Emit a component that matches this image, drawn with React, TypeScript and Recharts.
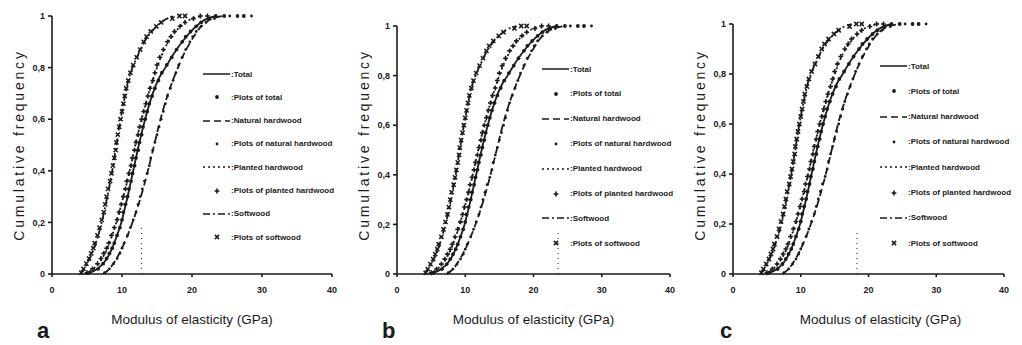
import React from 'react';
import { ComposedChart, Line, Scatter, XAxis, YAxis, ReferenceLine } from 'recharts';

// axis ticks
const xTicks = [0, 10, 20, 30, 40];
const yTicks = [0, 0.2, 0.4, 0.6, 0.8, 1];

// fitted cumulative curves: MOE (GPa) read at these frequencies
const fitLevels = [0, 0.02, 0.05, 0.1, 0.15, 0.2, 0.3, 0.4, 0.5, 0.6, 0.7, 0.76, 0.8, 0.85, 0.9, 0.95, 0.98, 1];
const totalFit = [5.0, 6.5, 7.6, 8.6, 9.3, 9.9, 10.8, 11.6, 12.4, 13.3, 14.4, 15.3, 16.2, 17.3, 18.6, 20.2, 21.5, 23.5];
const naturalFit = [7.3, 8.2, 9.0, 10.0, 10.8, 11.5, 12.7, 13.7, 14.6, 15.5, 16.6, 17.4, 18.0, 18.8, 19.8, 21.0, 22.2, 24.5];
const plantedFit = [4.8, 5.9, 6.9, 7.9, 8.6, 9.2, 10.2, 11.1, 11.9, 12.8, 13.8, 14.5, 15.0, 15.7, 16.6, 18.0, 19.3, 21.5];
const softwoodFit = [4.0, 4.6, 5.2, 6.0, 6.6, 7.1, 7.9, 8.6, 9.2, 9.8, 10.5, 11.0, 11.5, 12.3, 13.2, 14.6, 15.8, 17.5];

// observed plots (cumulative frequency levels and MOE values)
const plotLevels = [0.005, 0.02, 0.04, 0.06, 0.08, 0.1, 0.12, 0.15, 0.18, 0.21, 0.24, 0.27, 0.3, 0.33, 0.36, 0.39, 0.42, 0.45, 0.48, 0.51,
  0.54, 0.57, 0.6, 0.63, 0.66, 0.69, 0.72, 0.75, 0.78, 0.81, 0.84, 0.87, 0.9, 0.92, 0.94, 0.96, 0.975, 0.99, 1, 1];
const totalPlots = [5.3, 6.6, 7.3, 7.8, 8.2, 8.6, 8.9, 9.3, 9.7, 10.0, 10.2, 10.5, 10.8, 11.0, 11.3, 11.5, 11.8, 12.0, 12.3, 12.5,
  12.8, 13.0, 13.3, 13.6, 13.9, 14.3, 14.7, 15.2, 15.7, 16.4, 17.1, 17.8, 18.6, 19.1, 19.8, 20.6, 21.3, 22.4, 23.4, 24.6];
const naturalPlots = [7.5, 8.2, 8.8, 9.3, 9.7, 10.0, 10.3, 10.8, 11.2, 11.6, 12.0, 12.3, 12.6, 12.9, 13.2, 13.6, 13.9, 14.1, 14.4, 14.7,
  15.0, 15.3, 15.6, 15.9, 16.2, 16.5, 16.9, 17.3, 17.7, 18.1, 18.6, 19.1, 19.7, 20.1, 20.6, 21.3, 22.0, 23.2, 25.4, 28.5];
const plantedPlots = [5.0, 5.8, 6.5, 7.0, 7.4, 7.8, 8.1, 8.5, 8.9, 9.3, 9.6, 9.9, 10.2, 10.5, 10.7, 11.0, 11.3, 11.5, 11.8, 12.0,
  12.3, 12.5, 12.8, 13.1, 13.4, 13.7, 14.0, 14.4, 14.7, 15.0, 15.4, 15.9, 16.5, 17.0, 17.5, 18.3, 19.0, 20.2, 21.2, 22.2];
const softwoodPlots = [4.2, 4.5, 4.9, 5.3, 5.6, 5.9, 6.1, 6.5, 6.8, 7.1, 7.4, 7.6, 7.8, 8.0, 8.3, 8.5, 8.7, 8.9, 9.1, 9.2,
  9.4, 9.6, 9.8, 10.0, 10.2, 10.4, 10.6, 10.9, 11.2, 11.6, 12.1, 12.6, 13.1, 13.5, 14.1, 14.9, 15.6, 17.2, 18.2, 19.0];
const topTailX = [26.5, 27.4];
const topTailY = [1, 1];

// stray dotted mark in each panel (x position, top)
const strayMarkX = [12.8, 23.6, 18.3];
const strayMarkTop = [0.18, 0.17, 0.18];
const panelLetters = ['a', 'b', 'c'];

const ink = '#1b1b1b';
const font = 'Arial, "Liberation Sans", sans-serif';

const toPts = (xs: number[], ys: number[]) => xs.map((x, i) => ({ x, y: ys[i] }));

const series = [
  { name: 'Total', fit: totalFit, plots: totalPlots, dash: undefined, marker: 'dot' },
  { name: 'Natural hardwood', fit: naturalFit, plots: naturalPlots, dash: '7 4', marker: 'small' },
  { name: 'Planted hardwood', fit: plantedFit, plots: plantedPlots, dash: '2 3', marker: 'plus' },
  { name: 'Softwood', fit: softwoodFit, plots: softwoodPlots, dash: '7 3 2 3', marker: 'cross' },
];

const panels = [
  { plotLeft: 52, plotRight: 332, plotTop: 16, legendX: 203, legendY: 74, legendGap: 23.3, titleDx: 0, letterX: 45 },
  { plotLeft: 397, plotRight: 670, plotTop: 26, legendX: 542, legendY: 69, legendGap: 24.9, titleDx: 0, letterX: 390 },
  { plotLeft: 733, plotRight: 1004, plotTop: 24, legendX: 880, legendY: 66, legendGap: 25.3, titleDx: 12, letterX: 728 },
];
const plotBottom = 274;

const Marker = ({ cx, cy, kind }: { cx: number; cy: number; kind: string }) => {
  if (cx == null || cy == null) return null;
  if (kind === 'plus') {
    return <path d={`M${cx - 2.4} ${cy}h4.8M${cx} ${cy - 2.4}v4.8`} stroke={ink} strokeWidth={1.6} />;
  }
  if (kind === 'cross') {
    return <path d={`M${cx - 2.1} ${cy - 2.1}l4.2 4.2M${cx - 2.1} ${cy + 2.1}l4.2 -4.2`} stroke={ink} strokeWidth={1.5} />;
  }
  if (kind === 'small') return <circle cx={cx} cy={cy} r={1.4} fill={ink} />;
  return <circle cx={cx} cy={cy} r={1.9} fill={ink} />;
};

const fmtY = (v: number) => (v === 0 || v === 1 ? String(v) : v.toFixed(1).replace('.', ','));

const LegendBox = ({ x, y, gap }: { x: number; y: number; gap: number }) => {
  const rows: { label: string; dash?: string; marker?: string }[] = [];
  series.forEach((s) => {
    rows.push({ label: s.name, dash: s.dash ?? '' });
    rows.push({ label: 'Plots of ' + s.name.charAt(0).toLowerCase() + s.name.slice(1), marker: s.marker });
  });
  return (
    <>
      {rows.map((r, i) => (
        <div
          key={i}
          style={{
            position: 'absolute',
            left: x,
            top: y + i * gap - 6,
            height: 12,
            display: 'flex',
            alignItems: 'center',
            fontFamily: font,
            fontSize: 8,
            fontWeight: 600,
            color: ink,
            whiteSpace: 'nowrap',
          }}
        >
          <svg width={28} height={12}>
            {r.marker ? (
              <Marker cx={14} cy={6} kind={r.marker} />
            ) : (
              <line x1={0} y1={6} x2={27} y2={6} stroke={ink} strokeWidth={1.5} strokeDasharray={r.dash || undefined} />
            )}
          </svg>
          <span>:{r.label}</span>
        </div>
      ))}
    </>
  );
};

const Panel = ({ idx }: { idx: number }) => {
  const p = panels[idx];
  const yAxisW = 45;
  const xAxisH = 30;
  const width = yAxisW + (p.plotRight - p.plotLeft) + 10;
  const height = 345;
  const axisStyle = { stroke: ink, strokeWidth: 1.6 };
  const tickStyle = { fontSize: 9, fontWeight: 700, fill: ink, fontFamily: font };
  return (
    <>
      <div style={{ position: 'absolute', left: p.plotLeft - yAxisW, top: 0 }}>
        <ComposedChart
          width={width}
          height={height}
          margin={{ top: p.plotTop, right: 10, left: 0, bottom: height - plotBottom - xAxisH }}
        >
          <XAxis
            type="number"
            dataKey="x"
            domain={[0, 40]}
            ticks={xTicks}
            height={xAxisH}
            tickSize={3}
            tickMargin={10}
            axisLine={axisStyle}
            tickLine={axisStyle}
            tick={tickStyle}
          />
          <YAxis
            type="number"
            dataKey="y"
            domain={[0, 1]}
            ticks={yTicks}
            width={yAxisW}
            tickSize={4}
            tickMargin={3}
            axisLine={axisStyle}
            tickLine={axisStyle}
            tickFormatter={fmtY}
            tick={tickStyle}
          />
          <ReferenceLine
            segment={[{ x: strayMarkX[idx], y: 0 }, { x: strayMarkX[idx], y: strayMarkTop[idx] }]}
            stroke={ink}
            strokeDasharray="1 4"
          />
          {series.map((s) => (
            <Line
              key={s.name + 'fit'}
              data={toPts(s.fit, fitLevels)}
              dataKey="y"
              type="monotone"
              stroke={ink}
              strokeWidth={1.8}
              strokeDasharray={s.dash}
              dot={false}
              isAnimationActive={false}
            />
          ))}
          {series.map((s) => (
            <Scatter
              key={s.name + 'plots'}
              data={toPts(s.plots, plotLevels)}
              dataKey="y"
              isAnimationActive={false}
              shape={(props: any) => <Marker cx={props.cx} cy={props.cy} kind={s.marker} />}
            />
          ))}
          <Scatter
            data={toPts(topTailX, topTailY)}
            dataKey="y"
            isAnimationActive={false}
            shape={(props: any) => <Marker cx={props.cx} cy={props.cy} kind="dot" />}
          />
        </ComposedChart>
      </div>
      <LegendBox x={p.legendX} y={p.legendY} gap={p.legendGap} />
      <div
        style={{
          position: 'absolute',
          left: (p.plotLeft + p.plotRight) / 2 + p.titleDx - 100,
          width: 200,
          top: 312,
          textAlign: 'center',
          fontFamily: font,
          fontSize: 13.5,
          color: ink,
          whiteSpace: 'nowrap',
        }}
      >
        Modulus of elasticity (GPa)
      </div>
      <div
        style={{
          position: 'absolute',
          left: p.plotLeft - 33 - 110,
          top: 146 - 9,
          width: 220,
          textAlign: 'center',
          transform: 'rotate(-90deg)',
          fontFamily: font,
          fontSize: 14,
          letterSpacing: 2.8,
          color: ink,
          whiteSpace: 'nowrap',
        }}
      >
        Cumulative frequency
      </div>
      <div
        style={{
          position: 'absolute',
          left: p.letterX - 8,
          top: 320,
          fontFamily: font,
          fontSize: 22,
          fontWeight: 700,
          color: ink,
          lineHeight: '22px',
        }}
      >
        {panelLetters[idx]}
      </div>
    </>
  );
};

export default function App() {
  return (
    <div style={{ position: 'absolute', left: 0, top: 0, width: 1022, height: 345, background: '#fff', overflow: 'hidden' }}>
      <Panel idx={0} />
      <Panel idx={1} />
      <Panel idx={2} />
    </div>
  );
}
